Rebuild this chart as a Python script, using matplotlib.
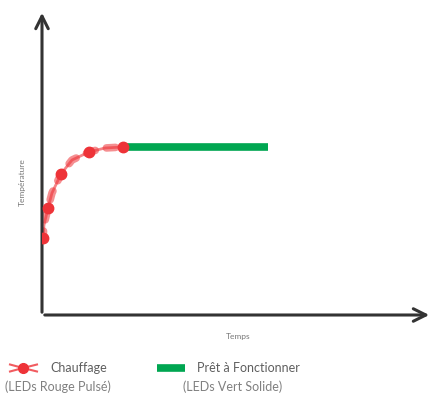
import numpy as np
import matplotlib.pyplot as plt
from matplotlib.lines import Line2D

plt.rcParams['font.family'] = ['Lato', 'DejaVu Sans']

# data (pixel-like units: time 0..390, temp 0..305)
heat_t = [0, 1, 2, 6, 10, 19, 30, 47, 63, 81]
heat_temp = [75, 77, 90, 107, 122, 141, 155, 163, 167, 168]
heat_markers_t = [1, 6, 19, 47, 81]
heat_markers_temp = [77, 107, 141, 163, 168]
ready_t = [81, 226]
ready_temp = [168, 168]

red = '#ee3338'
green = '#00a651'
grey = '#5f5f5f'

W, H = 433, 395
fig = plt.figure(figsize=(W / 100, H / 100), dpi=100)
ax = fig.add_axes([42 / W, 80 / H, 390 / W, 305 / H])
ax.set_xlim(0, 390)
ax.set_ylim(0, 305)
ax.axis('off')

# axes arrows
ax.annotate('', xy=(0, 305), xytext=(0, 0),
            arrowprops=dict(arrowstyle='->,head_length=0.9,head_width=0.45', color='#333333', lw=2.2))
ax.annotate('', xy=(390, 0), xytext=(0, 0),
            arrowprops=dict(arrowstyle='->,head_length=0.9,head_width=0.45', color='#333333', lw=2.2))

# heating curve (pulsing look)
ax.plot(heat_t, heat_temp, color=red, lw=2, alpha=0.6, zorder=2)
ax.plot(heat_t, heat_temp, color=red, lw=5.5, alpha=0.55, dashes=(1.2, 1.5),
        solid_capstyle='round', dash_capstyle='round', zorder=2)
ax.plot(ready_t, ready_temp, color=green, lw=5.5, zorder=3, solid_capstyle='butt')
ax.plot(heat_markers_t, heat_markers_temp, 'o', color=red, ms=7.5, zorder=4)

fig.text(238 / W, 1 - 337 / H, 'Temps', fontsize=6, color='#777777', ha='center', va='center')
fig.text(22 / W, 1 - 182 / H, 'Température', fontsize=6, color='#777777', ha='center', va='center',
         rotation=90)

# legend
y0 = 1 - 368 / H
dy = 3.5 / H
fig.add_artist(Line2D([10 / W, 23 / W, 10 / W], [y0 + dy, y0, y0 - dy], color=red, lw=1.5, alpha=0.8))
fig.add_artist(Line2D([37 / W, 23 / W, 37 / W], [y0 + dy, y0, y0 - dy], color=red, lw=1.5, alpha=0.8))
fig.add_artist(Line2D([23 / W], [y0], marker='o', color=red, ms=7))
fig.add_artist(Line2D([157 / W, 185 / W], [y0, y0], color=green, lw=5.5, solid_capstyle='butt'))
fig.text(50 / W, y0, 'Chauffage', fontsize=9, color=grey, va='center')
fig.text(5 / W, 1 - 387 / H, '(LEDs Rouge Pulsé)', fontsize=9, color='#808080', va='center')
fig.text(197 / W, y0, 'Prêt à Fonctionner', fontsize=9, color=grey, va='center')
fig.text(183 / W, 1 - 387 / H, '(LEDs Vert Solide)', fontsize=9, color='#808080', va='center')

fig.savefig('out.png', dpi=100)
